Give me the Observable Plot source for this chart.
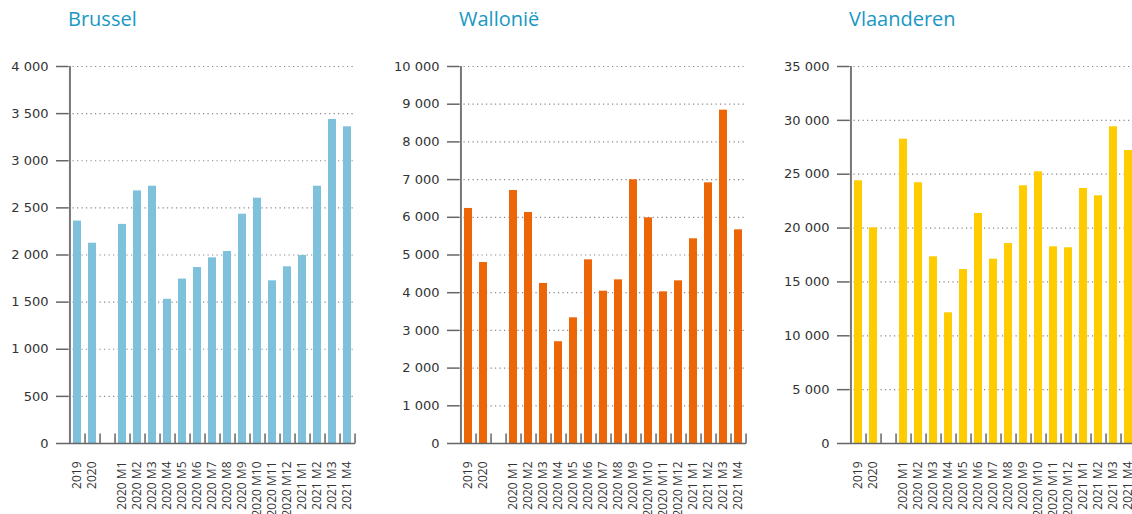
<!DOCTYPE html>
<html><head><meta charset="utf-8">
<script src="https://cdn.jsdelivr.net/npm/d3@7"></script>
<script src="https://cdn.jsdelivr.net/npm/@observablehq/plot@0.6"></script>
<style>
body{margin:0;background:#fff;overflow:hidden;width:1132px;height:514px;font-family:"Open Sans",sans-serif;position:relative}
.panel{position:absolute;top:0;width:391px;height:514px}
.title{height:46px;font-size:20px;color:#1898c4;line-height:1;padding-top:9px;padding-left:68px;box-sizing:border-box;white-space:nowrap}
svg{display:block}
</style></head><body>
<script>
const periods = ["2019","2020","2020 M1","2020 M2","2020 M3","2020 M4","2020 M5","2020 M6","2020 M7","2020 M8","2020 M9","2020 M10","2020 M11","2020 M12","2021 M1","2021 M2","2021 M3","2021 M4"];
const gapSlot = "gap";
const slots = ["2019","2020",gapSlot].concat(periods.slice(2));

const brussel = [2360,2125,2325,2680,2730,1530,1745,1867,1970,2037,2433,2603,1726,1875,1995,2730,3438,3360];
const wallonie = [6235,4800,6710,6127,4245,2700,3334,4872,4040,4341,6994,5986,4023,4315,5430,6914,8842,5668];
const vlaanderen = [24390,20025,28250,24205,17333,12134,16154,21353,17111,18568,23925,25225,18262,18169,23675,22997,29403,27202];

const titles = ["Brussel","Wallonië","Vlaanderen"];
const colors = ["#7fc1db","#ec6608","#ffcc00"];
const yMax = [4000,10000,35000];
const yStep = [500,1000,5000];
const series = [brussel, wallonie, vlaanderen];
const lefts = [0,391,781];

const plotW = 287;
const step = plotW / slots.length;
const fmt = d => d3.format(",")(d).replace(/,/g, " ");
const tickSym = {draw(ctx){ ctx.moveTo(0,0); ctx.lineTo(0,-10); }};

series.forEach((vals, k) => {
  const data = periods.map((p, i) => ({period: p, value: vals[i]}));
  const yticks = d3.range(0, yMax[k] + 1, yStep[k]);
  const panel = document.createElement("div");
  panel.className = "panel";
  panel.style.left = lefts[k] + "px";
  const t = document.createElement("div");
  t.className = "title";
  t.textContent = titles[k];
  panel.appendChild(t);
  const chart = Plot.plot({
    width: 391, height: 468,
    marginLeft: 68, marginRight: 391 - 68 - plotW, marginTop: 20, marginBottom: 71,
    style: {fontFamily: "'Open Sans', sans-serif", fontSize: "12px", color: "#333", overflow: "visible", background: "transparent"},
    x: {domain: slots, paddingInner: 0.47, paddingOuter: 0.235, label: null},
    y: {domain: [0, yMax[k]], label: null},
    marks: [
      Plot.gridY(yticks, {stroke: "#888", strokeOpacity: 1, strokeDasharray: "1.2,3.3", strokeWidth: 1.2}),
      Plot.barY(data, {x: "period", y: "value", fill: colors[k]}),
      Plot.ruleY([0], {stroke: "#666", strokeWidth: 1.5}),
      Plot.dot(slots, {x: d => d, y: () => 0, dx: step / 2, symbol: tickSym, stroke: "#666", strokeWidth: 1.5, fill: "none", r: 3}),
      Plot.ruleX([slots[0]], {x: d => d, y1: () => 0, y2: () => yMax[k], dx: -step / 2, stroke: "#777", strokeWidth: 2}),
      Plot.axisY(yticks, {tickSize: 12, tickPadding: 8, tickFormat: fmt, fontSize: 13, fontFamily: "'DejaVu Sans', sans-serif", stroke: "#666", strokeWidth: 1.5, color: "#333"}),
      Plot.axisX({tickSize: 0, tickRotate: -90, tickPadding: 18, tickFormat: d => d === gapSlot ? "" : d, fontSize: 12})
    ]
  });
  panel.appendChild(chart);
  document.body.appendChild(panel);
});
</script>
</body></html>
